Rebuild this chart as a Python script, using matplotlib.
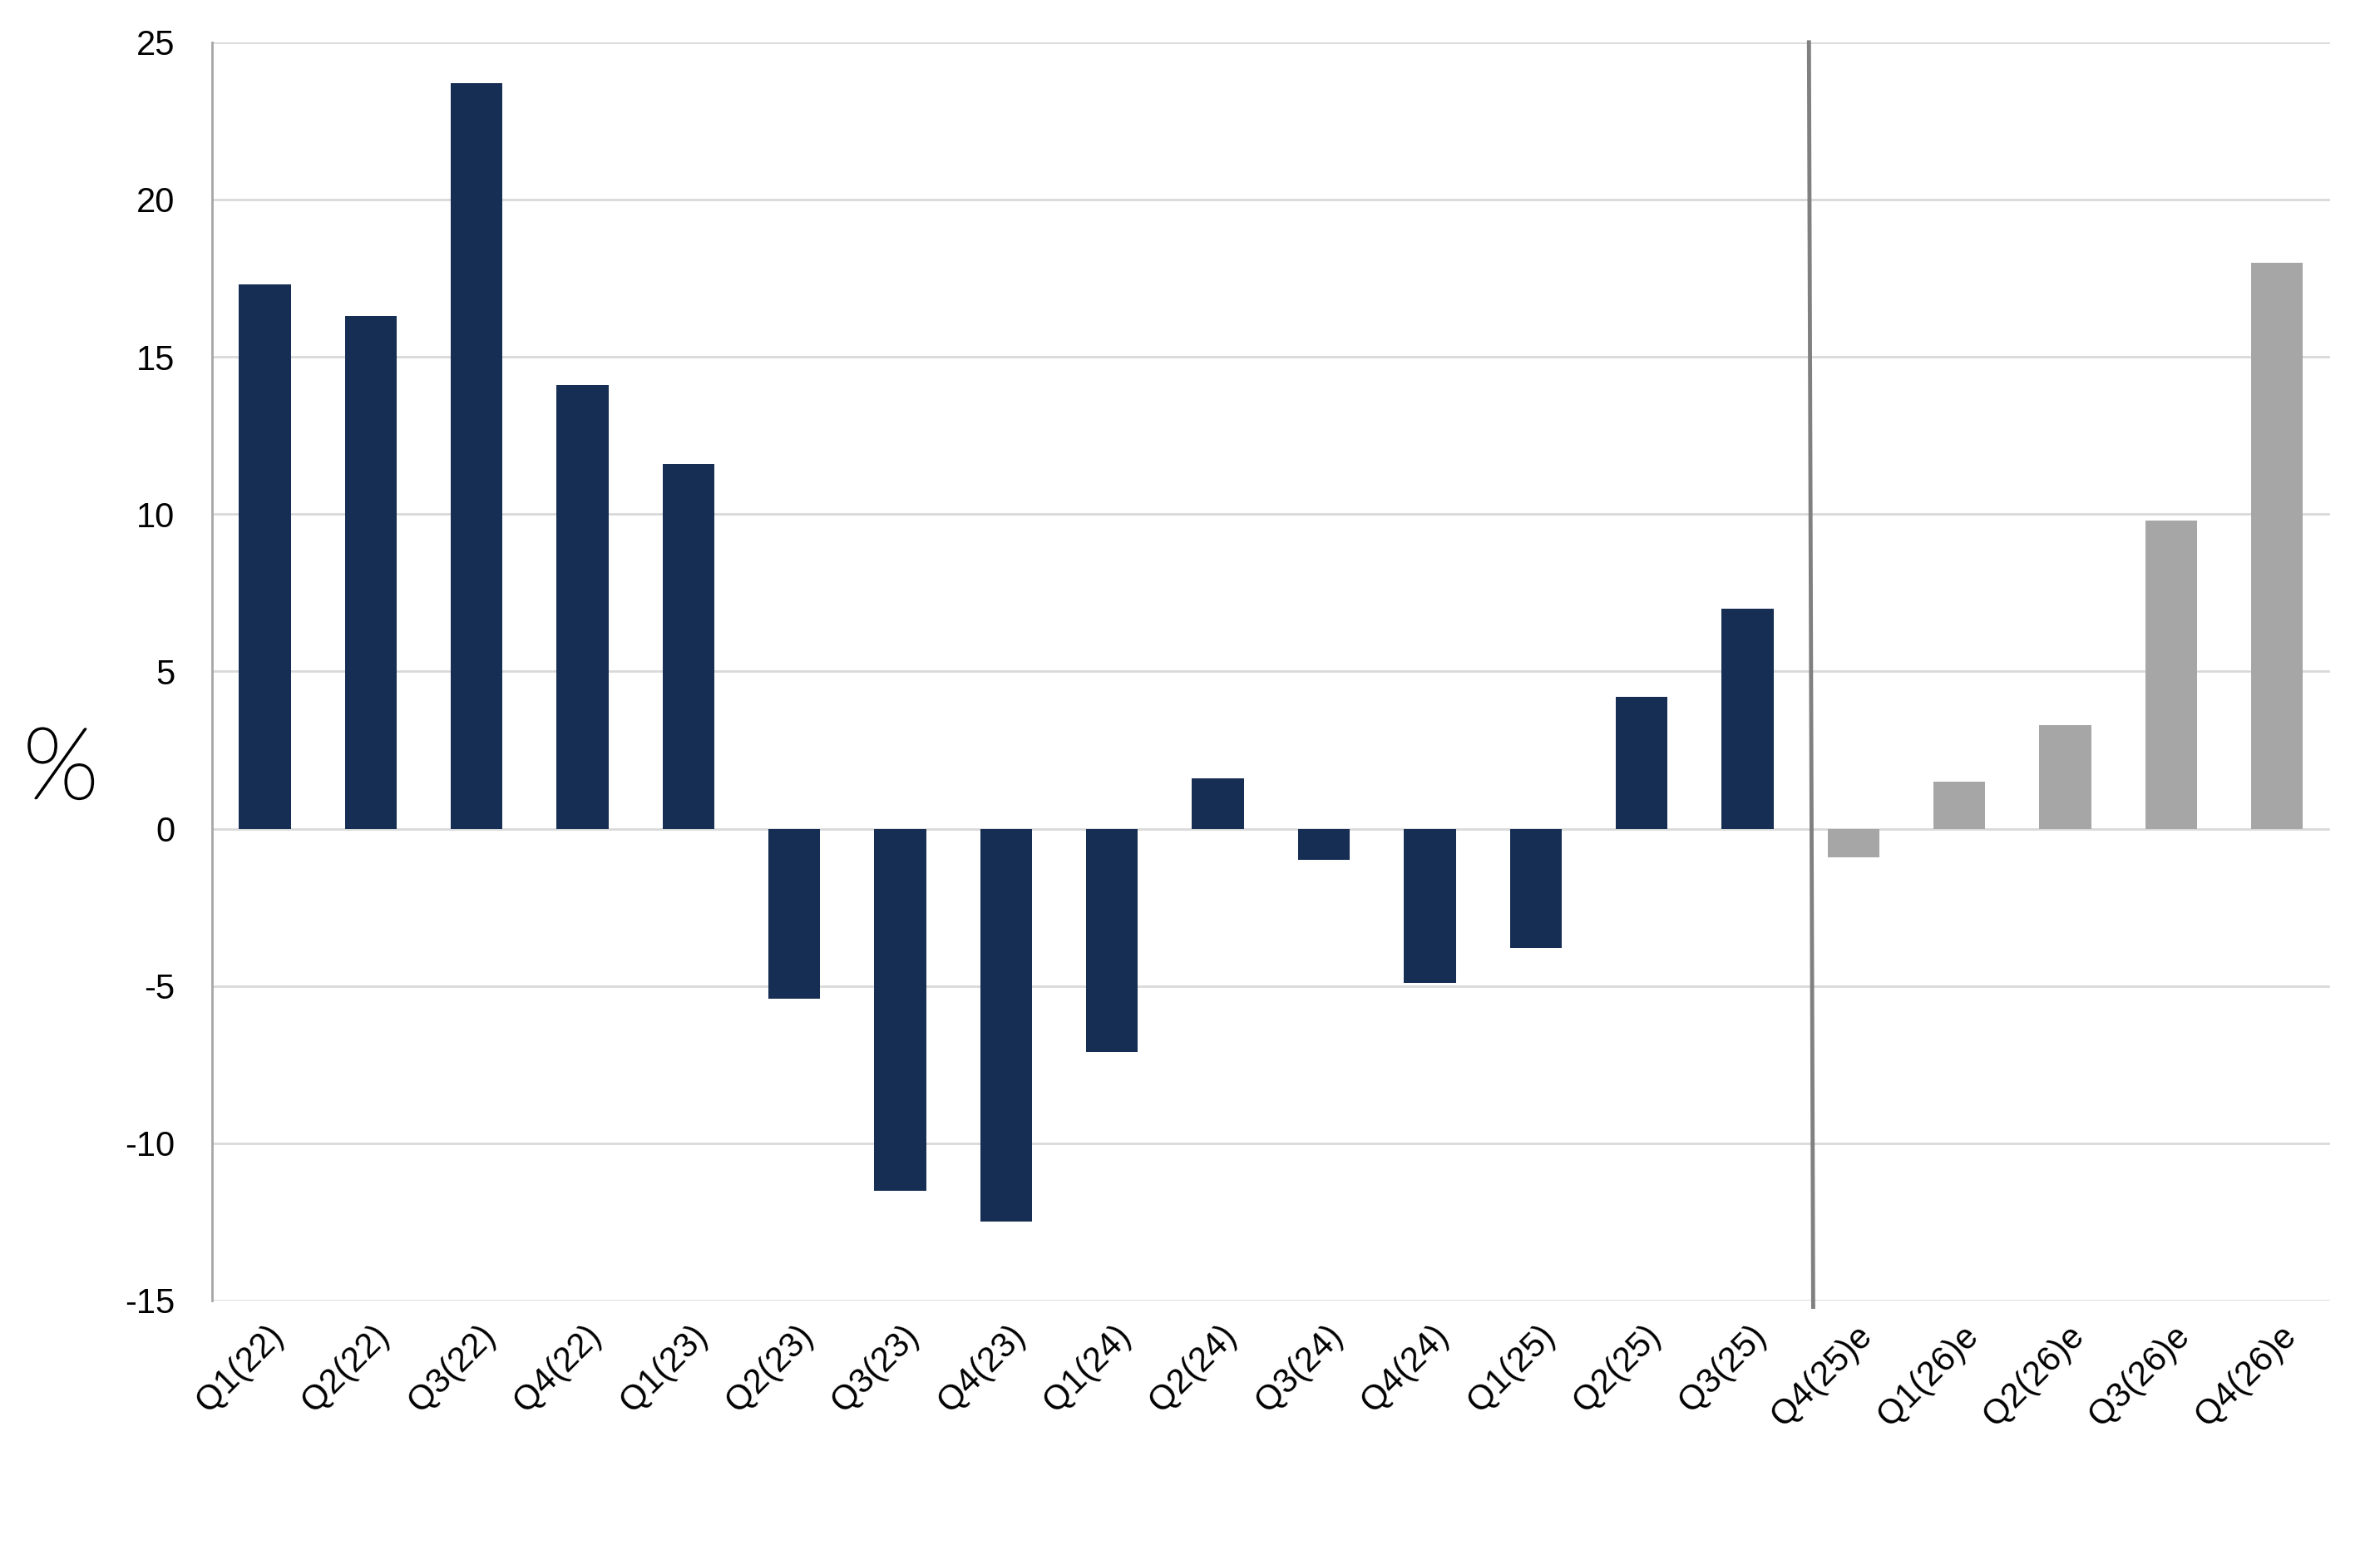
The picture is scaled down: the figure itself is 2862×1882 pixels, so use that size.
import matplotlib
matplotlib.use("Agg")
import matplotlib.pyplot as plt
import matplotlib.transforms as mtransforms
import matplotlib.patheffects as pe
from matplotlib import font_manager

categories = ["Q1(22)", "Q2(22)", "Q3(22)", "Q4(22)", "Q1(23)", "Q2(23)", "Q3(23)",
              "Q4(23)", "Q1(24)", "Q2(24)", "Q3(24)", "Q4(24)", "Q1(25)", "Q2(25)",
              "Q3(25)", "Q4(25)e", "Q1(26)e", "Q2(26)e", "Q3(26)e", "Q4(26)e"]
values = [17.3, 16.3, 23.7, 14.1, 11.6, -5.4, -11.5, -12.5, -7.1, 1.6, -1.0, -4.9,
          -3.8, 4.2, 7.0, -0.9, 1.5, 3.3, 9.8, 18.0]
is_estimate = [False] * 15 + [True] * 5
y_ticks = [25, 20, 15, 10, 5, 0, -5, -10, -15]

avail = {f.name for f in font_manager.fontManager.ttflist}
fam = "Liberation Sans Narrow" if "Liberation Sans Narrow" in avail else "Liberation Sans"
plt.rcParams['font.family'] = [fam, "DejaVu Sans"]

NAVY = "#162D54"
GREY = "#A6A6A6"

fig = plt.figure(figsize=(28.62, 18.82), dpi=100)
ax = fig.add_axes([0.089, 0.169, 0.890, 0.804])

x = list(range(len(categories)))
colors = [GREY if e else NAVY for e in is_estimate]
ax.bar(x, values, width=0.49, color=colors, zorder=3)

ax.set_xlim(-0.5, len(categories) - 0.5)
ax.set_ylim(-15, 25)
ax.set_yticks(y_ticks)
ax.set_yticklabels([str(v) for v in y_ticks], fontsize=30)
ax.yaxis.grid(True, color="#D9D9D9", linewidth=2, zorder=0)
ax.set_axisbelow(True)

for s in ["top", "right", "bottom"]:
    ax.spines[s].set_visible(False)
ax.spines["left"].set_color("#A6A6A6")
ax.spines["left"].set_linewidth(2)
ax.tick_params(axis="y", length=0, pad=32)
ax.tick_params(axis="x", length=0, pad=14)

ax.set_xticks(x)
ax.set_xticklabels(categories, rotation=45, ha="right", fontsize=30)
offset = mtransforms.ScaledTranslation(22 / 72, -2 / 72, fig.dpi_scale_trans)
for lab in ax.get_xticklabels():
    lab.set_transform(lab.get_transform() + offset)

# separator between actual and estimated quarters
ax.plot([14.58, 14.62], [25, -15.2], color="#808080", linewidth=3.5, zorder=4, clip_on=False)

pct_fam = ["Lato", "DejaVu Sans"] if "Lato" in avail else [fam, "DejaVu Sans"]
fig.text(0.0256, 0.507, "%", fontsize=86, fontweight="light", family=pct_fam,
         ha="center", va="center", color="#000000",
         path_effects=[pe.withStroke(linewidth=1.6, foreground="#000000")])

fig.savefig("out.png", dpi=100, facecolor="white")
